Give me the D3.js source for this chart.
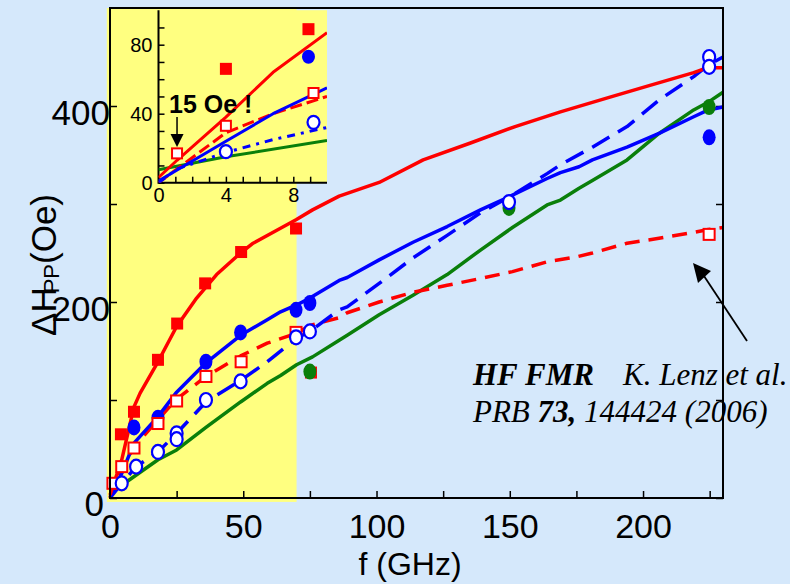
<!DOCTYPE html>
<html>
<head>
<meta charset="utf-8">
<script src="https://cdn.jsdelivr.net/npm/d3@7"></script>
<style>
  body { margin: 0; background: #d5e8fb; }
  svg { display: block; font-family: 'Liberation Sans', Arial, sans-serif; }
</style>
</head>
<body>
<script>
// main plot curves: [f (GHz), dH (Oe)]
const redSolid = [[0,3],[4.4,39],[9,93],[11.3,107],[18,139],[25,175],[32.5,204],[40,228],[49,250],[53.7,260],[63.8,275],[69.8,284],[76,294],[86,308],[101,322],[117.5,345],[135,362],[152,379],[169,394],[187.6,409],[202.6,421],[219,434],[224,439],[230,439]]
const redDashed = [[0,0],[1.1,8],[4.4,30],[9,52],[18,80],[25,101],[36,124],[49,145],[59,158],[70,168],[75,176],[86,184],[89,189],[101,200],[113.7,210],[126.5,217],[139,224],[151,231],[164,241],[175,246],[181,250],[194,260],[206,265],[219,271],[224.5,274],[230,276]]
const blueSolid = [[0,1],[4.4,25],[9,56],[18,83],[25,108],[36,138],[49,166],[59,182],[64,190],[70,197],[75,204],[86,222],[89,225],[101,243],[113.7,261],[126.5,277],[139,294],[151,309],[164,326],[169,332],[176,338],[181,345],[194,358],[206,372],[219,389],[224.5,396],[230,399]]
const blueDashed = [[0,0],[4.4,15],[9.8,32],[18,47],[25,66],[36,98],[49,120],[59,139],[70,163],[75,170],[86,192],[89,195],[101,219],[113.7,245],[126.5,268],[139,291],[151,309],[164,331],[169,340],[181,358],[194,379],[206,406],[219,430],[224.5,442],[230,450]]
const greenSolid = [[0,7],[4.4,13],[18,39],[25,49],[36,72],[49,98],[59,117],[64,125],[70,136],[76,144],[86,161],[89,166],[101,187],[113.7,207],[126.5,228],[139,253],[151,276],[164,299],[169,304],[176,316],[181,324],[194,345],[206,372],[219,396],[224.5,404],[230,414]]

// main plot measured points
const redFilled = [[75.4,128],[4.1,65],[9,88],[18,141],[25.2,178],[35.7,219],[49.2,251],[69.8,275]]
const redOpen = [[1.1,15],[4.4,32],[9,51],[18,76],[25,99],[36,124],[49.2,139],[69.8,169],[224.8,269]]
const blueFilled = [[9,72],[18,82],[36,139],[49,169],[69.8,192],[75,199],[224.8,368]]
const blueOpen = [[4.4,15],[9.8,32],[18,47],[25,66],[25,60],[36,100],[49,119],[69.8,164],[75,170],[149.7,302],[224.8,450],[224.8,440]]
const greenFilled = [[75,129],[149.7,296],[224.8,399]]

// inset (0-10 GHz)
const insetRedSolid = [[0,3],[1.1,13],[4,38],[6.8,64],[10,87]]
const insetRedDashed = [[0,0],[4,29],[6.8,40],[10,50]]
const insetBlueSolid = [[0,1],[4,24],[6.8,40],[10,55]]
const insetBlueDash = [[0,0],[1.1,8],[4,17.5],[6.8,25],[10,32]]
const insetGreen = [[0,7.5],[4,15],[10,24.5]]
const insetRedFilled = [[4,66],[8.9,89]]
const insetBlueFilled = [[8.9,73]]
const insetRedOpen = [[1.1,17],[4,33],[9.2,52]]
const insetBlueOpen = [[4,18],[9.2,35]]

const xTicks = [0,25,50,75,100,125,150,175,200,225]
const yTicks = [0,100,200,300,400]
const insetXTicks = [0,1,2,3,4,5,6,7,8,9]
const insetYTicks = [0,10,20,30,40,50,60,70,80,90]

const RED = '#ff0000', BLUE = '#0000ff', GREEN = '#0a7f0a', YELLOW = '#ffff80'

const svg = d3.select('body').append('svg')
  .attr('width', 790)
  .attr('height', 584)

svg.append('rect').attr('width', 790).attr('height', 584).attr('fill', '#d5e8fb')

const x = d3.scaleLinear().domain([0, 230]).range([110, 723])
const y = d3.scaleLinear().domain([0, 500]).range([498, 8])

// yellow band 0-70 GHz
svg.append('rect')
  .attr('x', x(-1.2)).attr('y', y(500))
  .attr('width', x(70) - x(-1.2)).attr('height', y(-4) - y(500))
  .attr('fill', YELLOW)

function drawAxes(g, xs, ys, xt, yt, xfmt, yfmt, fontSize, tick, padX, padY) {
  const ax = g.append('g')
    .attr('transform', `translate(0,${ys.range()[0]})`)
    .call(d3.axisBottom(xs).tickValues(xt).tickSize(-tick).tickPadding(padX).tickFormat(xfmt))
  const ay = g.append('g')
    .attr('transform', `translate(${xs.range()[0]},0)`)
    .call(d3.axisLeft(ys).tickValues(yt).tickSize(-tick).tickPadding(padY).tickFormat(yfmt))
  for (const a of [ax, ay]) {
    a.select('.domain').remove()
    a.selectAll('line').attr('stroke', 'black').attr('stroke-width', 1.5)
    a.selectAll('text').attr('fill', 'black').style('font-size', fontSize + 'px')
      .style('font-family', "'Liberation Sans', Arial, sans-serif")
  }
  return [ax, ay]
}

const lineGen = (xs, ys) => d3.line().x(d => xs(d[0])).y(d => ys(d[1]))

function drawLine(g, data, xs, ys, color, width, dash) {
  g.append('path')
    .datum(data)
    .attr('d', lineGen(xs, ys))
    .attr('fill', 'none')
    .attr('stroke', color)
    .attr('stroke-width', width)
    .attr('stroke-linejoin', 'round')
    .attr('stroke-dasharray', dash || null)
}

function drawSquares(g, data, xs, ys, size, filled) {
  g.selectAll(null).data(data).enter().append('rect')
    .attr('x', d => xs(d[0]) - size / 2)
    .attr('y', d => ys(d[1]) - size / 2)
    .attr('width', size).attr('height', size)
    .attr('fill', filled ? RED : 'white')
    .attr('stroke', RED)
    .attr('stroke-width', filled ? 0 : 2)
}

function drawEllipses(g, data, xs, ys, rx, ry, color, filled) {
  g.selectAll(null).data(data).enter().append('ellipse')
    .attr('cx', d => xs(d[0]))
    .attr('cy', d => ys(d[1]))
    .attr('rx', rx).attr('ry', ry)
    .attr('fill', filled ? color : 'white')
    .attr('stroke', color)
    .attr('stroke-width', filled ? 0 : 2.2)
}

// main axes
const [mx, my] = drawAxes(svg, x, y, xTicks, yTicks,
  d => d % 50 === 0 ? d : '', d => d % 200 === 0 ? d : '', 34, 7, 16, 0)
my.selectAll('text').attr('dy', '0.52em').style('font-size', '35px')
my.selectAll('.tick').filter(d => d === 0).select('text').attr('x', -6).attr('dy', '0.5em')

// right axis ticks
svg.append('g')
  .attr('transform', `translate(${x(230)},0)`)
  .call(d3.axisRight(y).tickValues(yTicks).tickSize(-7).tickFormat(''))
  .call(g => g.select('.domain').remove())
  .selectAll('line').attr('stroke', 'black').attr('stroke-width', 1.5)

// main curves
const gMain = svg.append('g')
drawLine(gMain, greenSolid, x, y, GREEN, 3.5)
drawLine(gMain, redDashed, x, y, RED, 3.5, '15,9')
drawLine(gMain, blueDashed, x, y, BLUE, 3.5, '20,10')
drawLine(gMain, blueSolid, x, y, BLUE, 3.5)
drawLine(gMain, redSolid, x, y, RED, 3.5)

drawSquares(gMain, redFilled, x, y, 12, true)
drawEllipses(gMain, greenFilled, x, y, 6.5, 8, GREEN, true)
drawEllipses(gMain, blueFilled, x, y, 6.5, 8, BLUE, true)
drawSquares(gMain, redOpen, x, y, 11, false)
drawEllipses(gMain, blueOpen, x, y, 6, 7, BLUE, false)

// frame
svg.append('rect')
  .attr('x', x(0)).attr('y', y(500))
  .attr('width', x(230) - x(0)).attr('height', y(0) - y(500))
  .attr('fill', 'none').attr('stroke', 'black').attr('stroke-width', 2)

// axis titles
svg.append('text')
  .attr('x', 410).attr('y', 575)
  .attr('text-anchor', 'middle')
  .style('font-size', '32px')
  .text('f (GHz)')

const yl = svg.append('text')
  .attr('transform', 'translate(56,265) rotate(-90)')
  .attr('text-anchor', 'middle')
  .style('font-size', '35px')
yl.append('tspan').text('ΔH')
yl.append('tspan').attr('dx', -6).attr('dy', 3).style('font-size', '22px').text('PP')
yl.append('tspan').attr('dy', -3).text('(Oe)')

// inset
const xi = d3.scaleLinear().domain([0, 10]).range([158.5, 327])
const yi = d3.scaleLinear().domain([0, 100]).range([182.7, 10.2])

svg.append('rect')
  .attr('x', 120).attr('y', yi(100))
  .attr('width', xi(10) - 120).attr('height', yi(0) - yi(100))
  .attr('fill', YELLOW)

svg.append('clipPath').attr('id', 'insetClip')
  .append('rect')
  .attr('x', xi(0)).attr('y', yi(100))
  .attr('width', xi(10) - xi(0)).attr('height', yi(0) - yi(100))

const [ix, iy] = drawAxes(svg, xi, yi, insetXTicks, insetYTicks,
  d => d % 4 === 0 ? d : '', d => d % 40 === 0 ? d : '', 20, 6, 5, 6)
iy.selectAll('text').attr('dy', '0.36em')

svg.append('path')
  .attr('d', `M${xi(0)},${yi(100)}V${yi(0)}H${xi(10)}`)
  .attr('fill', 'none').attr('stroke', 'black').attr('stroke-width', 2)

const gIn = svg.append('g').attr('clip-path', 'url(#insetClip)')
drawLine(gIn, insetGreen, xi, yi, GREEN, 3)
drawLine(gIn, insetRedDashed, xi, yi, RED, 3, '12,5')
drawLine(gIn, insetBlueDash, xi, yi, BLUE, 3, '8,6,3,6')
drawLine(gIn, insetBlueSolid, xi, yi, BLUE, 3)
drawLine(gIn, insetRedSolid, xi, yi, RED, 3)

const gInM = svg.append('g')
drawSquares(gInM, insetRedFilled, xi, yi, 12, true)
drawEllipses(gInM, insetBlueFilled, xi, yi, 6.5, 7, BLUE, true)
drawSquares(gInM, insetRedOpen, xi, yi, 10, false)
drawEllipses(gInM, insetBlueOpen, xi, yi, 6, 6.5, BLUE, false)

// "15 Oe !" callout
svg.append('text')
  .attr('x', 169).attr('y', 113)
  .style('font-size', '25px').style('font-weight', 'bold')
  .text('15 Oe !')
svg.append('line')
  .attr('x1', xi(1.1)).attr('x2', xi(1.1))
  .attr('y1', 117).attr('y2', 136)
  .attr('stroke', 'black').attr('stroke-width', 1.5)
svg.append('path')
  .attr('d', `M${xi(1.1) - 6.5},134L${xi(1.1) + 6.5},134L${xi(1.1)},147Z`)
  .attr('fill', 'black')

// reference annotation
const serif = "'Liberation Serif', 'Times New Roman', serif"
svg.append('text')
  .attr('x', 473).attr('y', 385)
  .style('font-family', serif).style('font-size', '31px')
  .style('font-style', 'italic').style('font-weight', 'bold')
  .text('HF FMR')
svg.append('text')
  .attr('x', 623).attr('y', 385)
  .style('font-family', serif).style('font-size', '31px')
  .style('font-style', 'italic')
  .text('K. Lenz et al.')
const t2 = svg.append('text')
  .attr('x', 473).attr('y', 422)
  .style('font-family', serif).style('font-size', '31px')
  .style('font-style', 'italic')
t2.append('tspan').text('PRB ')
t2.append('tspan').style('font-weight', 'bold').text('73,')
t2.append('tspan').text(' 144424 (2006)')

// arrow pointing to the HF FMR points
svg.append('line')
  .attr('x1', 747).attr('y1', 341)
  .attr('x2', 704).attr('y2', 276)
  .attr('stroke', 'black').attr('stroke-width', 1.8)
svg.append('path')
  .attr('d', 'M693,263L711,271L698,283Z')
  .attr('fill', 'black')
</script>
</body>
</html>
